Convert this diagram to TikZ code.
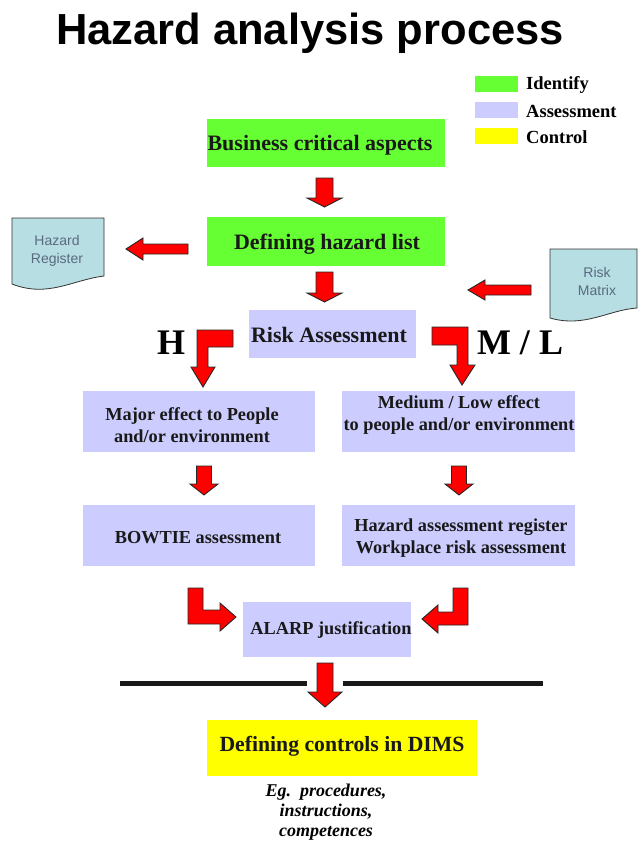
\documentclass[tikz,border=0pt]{standalone}
\usepackage{fontspec}
\setmainfont{Liberation Serif}
\newfontfamily\sansf{Liberation Sans}
\definecolor{idgreen}{HTML}{66FF33}
\definecolor{lav}{HTML}{CCCCFF}
\definecolor{ctrly}{HTML}{FFFF00}
\definecolor{docfill}{HTML}{B7DEE2}
\definecolor{doctext}{HTML}{5A6A80}
\newcommand\dnarr[6]{\filldraw[blk] ({#1-#5},#2) -- ({#1+#5},#2) -- ({#1+#5},#3) -- ({#1+#6},#3) -- (#1,#4) -- ({#1-#6},#3) -- ({#1-#5},#3) -- cycle;}
\begin{document}
\begin{tikzpicture}[x=1pt,y=-1pt,
  box/.style={inner sep=0pt},
  txt/.style={inner sep=0pt, align=center, font=\bfseries\fontsize{18.3}{22}\selectfont, text=black!90},
  bigtxt/.style={txt, font=\bfseries\fontsize{22}{24}\selectfont},
  legbox/.style={inner sep=0pt, minimum width=43pt, minimum height=16pt},
  legtext/.style={anchor=west, inner sep=0pt, font=\bfseries\fontsize{18.5}{20}\selectfont},
  blk/.style={fill=red, draw=black!85, line width=0.9pt, line join=miter},
  doc/.style={fill=docfill, draw=black!80, line width=0.8pt},
  doctxt/.style={align=center, inner sep=0pt, text=doctext, font=\sansf\fontsize{14}{18}\selectfont},
  bigl/.style={inner sep=0pt, font=\bfseries\fontsize{36}{38}\selectfont}]
\useasboundingbox (0,0) rectangle (644,841);

\node[font=\sansf\bfseries\fontsize{43.5}{46}\selectfont] (title) at (310,33) {Hazard analysis process};

% legend
\node[legbox, fill=idgreen] (lg1) at (496.5,84) {};
\node[legtext] (lt1) at (526,85) {Identify};
\node[legbox, fill=lav] (lg2) at (496.5,110) {};
\node[legtext] (lt2) at (526,111) {Assessment};
\node[legbox, fill=ctrly] (lg3) at (496.5,136) {};
\node[legtext] (lt3) at (526,137) {Control};

% boxes
\node[box, fill=idgreen, minimum width=238pt, minimum height=48pt] (bca) at (326,143) {};
\node[bigtxt] (bcat) at (320,145) {Business critical aspects};
\node[box, fill=idgreen, minimum width=238pt, minimum height=49pt] (dhl) at (326,241.5) {};
\node[bigtxt] (dhlt) at (327,244) {Defining hazard list};
\node[box, fill=lav, minimum width=167pt, minimum height=48pt] (ra) at (332.5,334) {};
\node[bigtxt] (rat) at (329,335) {Risk Assessment};
\node[box, fill=lav, minimum width=232pt, minimum height=61pt] (maj) at (199,421.5) {};
\node[txt] (majt) at (192,425) {Major effect to People\\and/or environment};
\node[box, fill=lav, minimum width=233pt, minimum height=61pt] (med) at (458.5,421.5) {};
\node[txt] (medt) at (459,415) {Medium / Low effect\\to people and/or environment};
\node[box, fill=lav, minimum width=232pt, minimum height=61pt] (bow) at (199,535.5) {};
\node[txt] (bowt) at (198,538) {BOWTIE assessment};
\node[box, fill=lav, minimum width=233pt, minimum height=61pt] (har) at (458.5,535.5) {};
\node[txt] (hart) at (461,538) {Hazard assessment register\\Workplace risk assessment};
\node[box, fill=lav, minimum width=168pt, minimum height=55pt] (alarp) at (327,629.5) {};
\node[txt] (alarpt) at (331,630) {ALARP justification};
\node[box, fill=ctrly, minimum width=270pt, minimum height=56pt] (ctl) at (342,748) {};
\node[txt, font=\bfseries\fontsize{21.7}{24}\selectfont] (ctlt) at (342,746) {Defining controls in DIMS};
\node[align=center, inner sep=0pt, font=\bfseries\itshape\fontsize{18}{20}\selectfont] (eg) at (326,812) {Eg.\ \ procedures,\\instructions,\\competences};

\node[bigl] (hl) at (171,343) {H};
\node[bigl] (ml) at (520,343) {M / L};

% documents
\filldraw[doc] (12,218) -- (104,218) -- (104,276) .. controls (72,280) and (48,298) .. (12,284) -- cycle;
\node[doctxt] (hr) at (57,251) {Hazard\\Register};
\filldraw[doc] (550,249) -- (637,249) -- (637,308) .. controls (608,310) and (585,328) .. (550,318) -- cycle;
\node[doctxt] (rm) at (597,281) {Risk\\Matrix};

% straight arrows
\dnarr{324.5}{178}{198}{207}{8.5}{17.5}
\dnarr{324.5}{272}{293}{302}{8.5}{17.5}
\dnarr{204}{466}{484}{495}{7.5}{14}
\dnarr{459}{466}{484}{495}{7.5}{14}
\dnarr{325}{663}{692}{707}{8}{17}
\filldraw[blk] (188,244) -- (143,244) -- (143,238) -- (126,249) -- (143,260) -- (143,254) -- (188,254) -- cycle;
\filldraw[blk] (531,285) -- (485,285) -- (485,280) -- (468,290) -- (485,300) -- (485,295) -- (531,295) -- cycle;

% bent arrows
\filldraw[blk] (233,330) -- (233,347) -- (208,347) -- (208,367) -- (215,367) -- (203,387) -- (191,367) -- (197,367) -- (197,330) -- cycle;
\filldraw[blk] (432,327) -- (468,327) -- (468,365) -- (475,365) -- (462,385) -- (450,365) -- (457,365) -- (457,345) -- (432,345) -- cycle;
\filldraw[blk] (188,588) -- (203,588) -- (203,610) -- (220,610) -- (220,603) -- (236,617) -- (220,631) -- (220,624) -- (188,624) -- cycle;
\filldraw[blk] (468,588) -- (468,625) -- (438,625) -- (438,633) -- (422,619) -- (438,605) -- (438,612) -- (453,612) -- (453,588) -- cycle;

% separator lines
\draw[line width=5pt, black!90] (120,683) -- (307,683);
\draw[line width=5pt, black!90] (343,683) -- (543,683);
\end{tikzpicture}
\end{document}
